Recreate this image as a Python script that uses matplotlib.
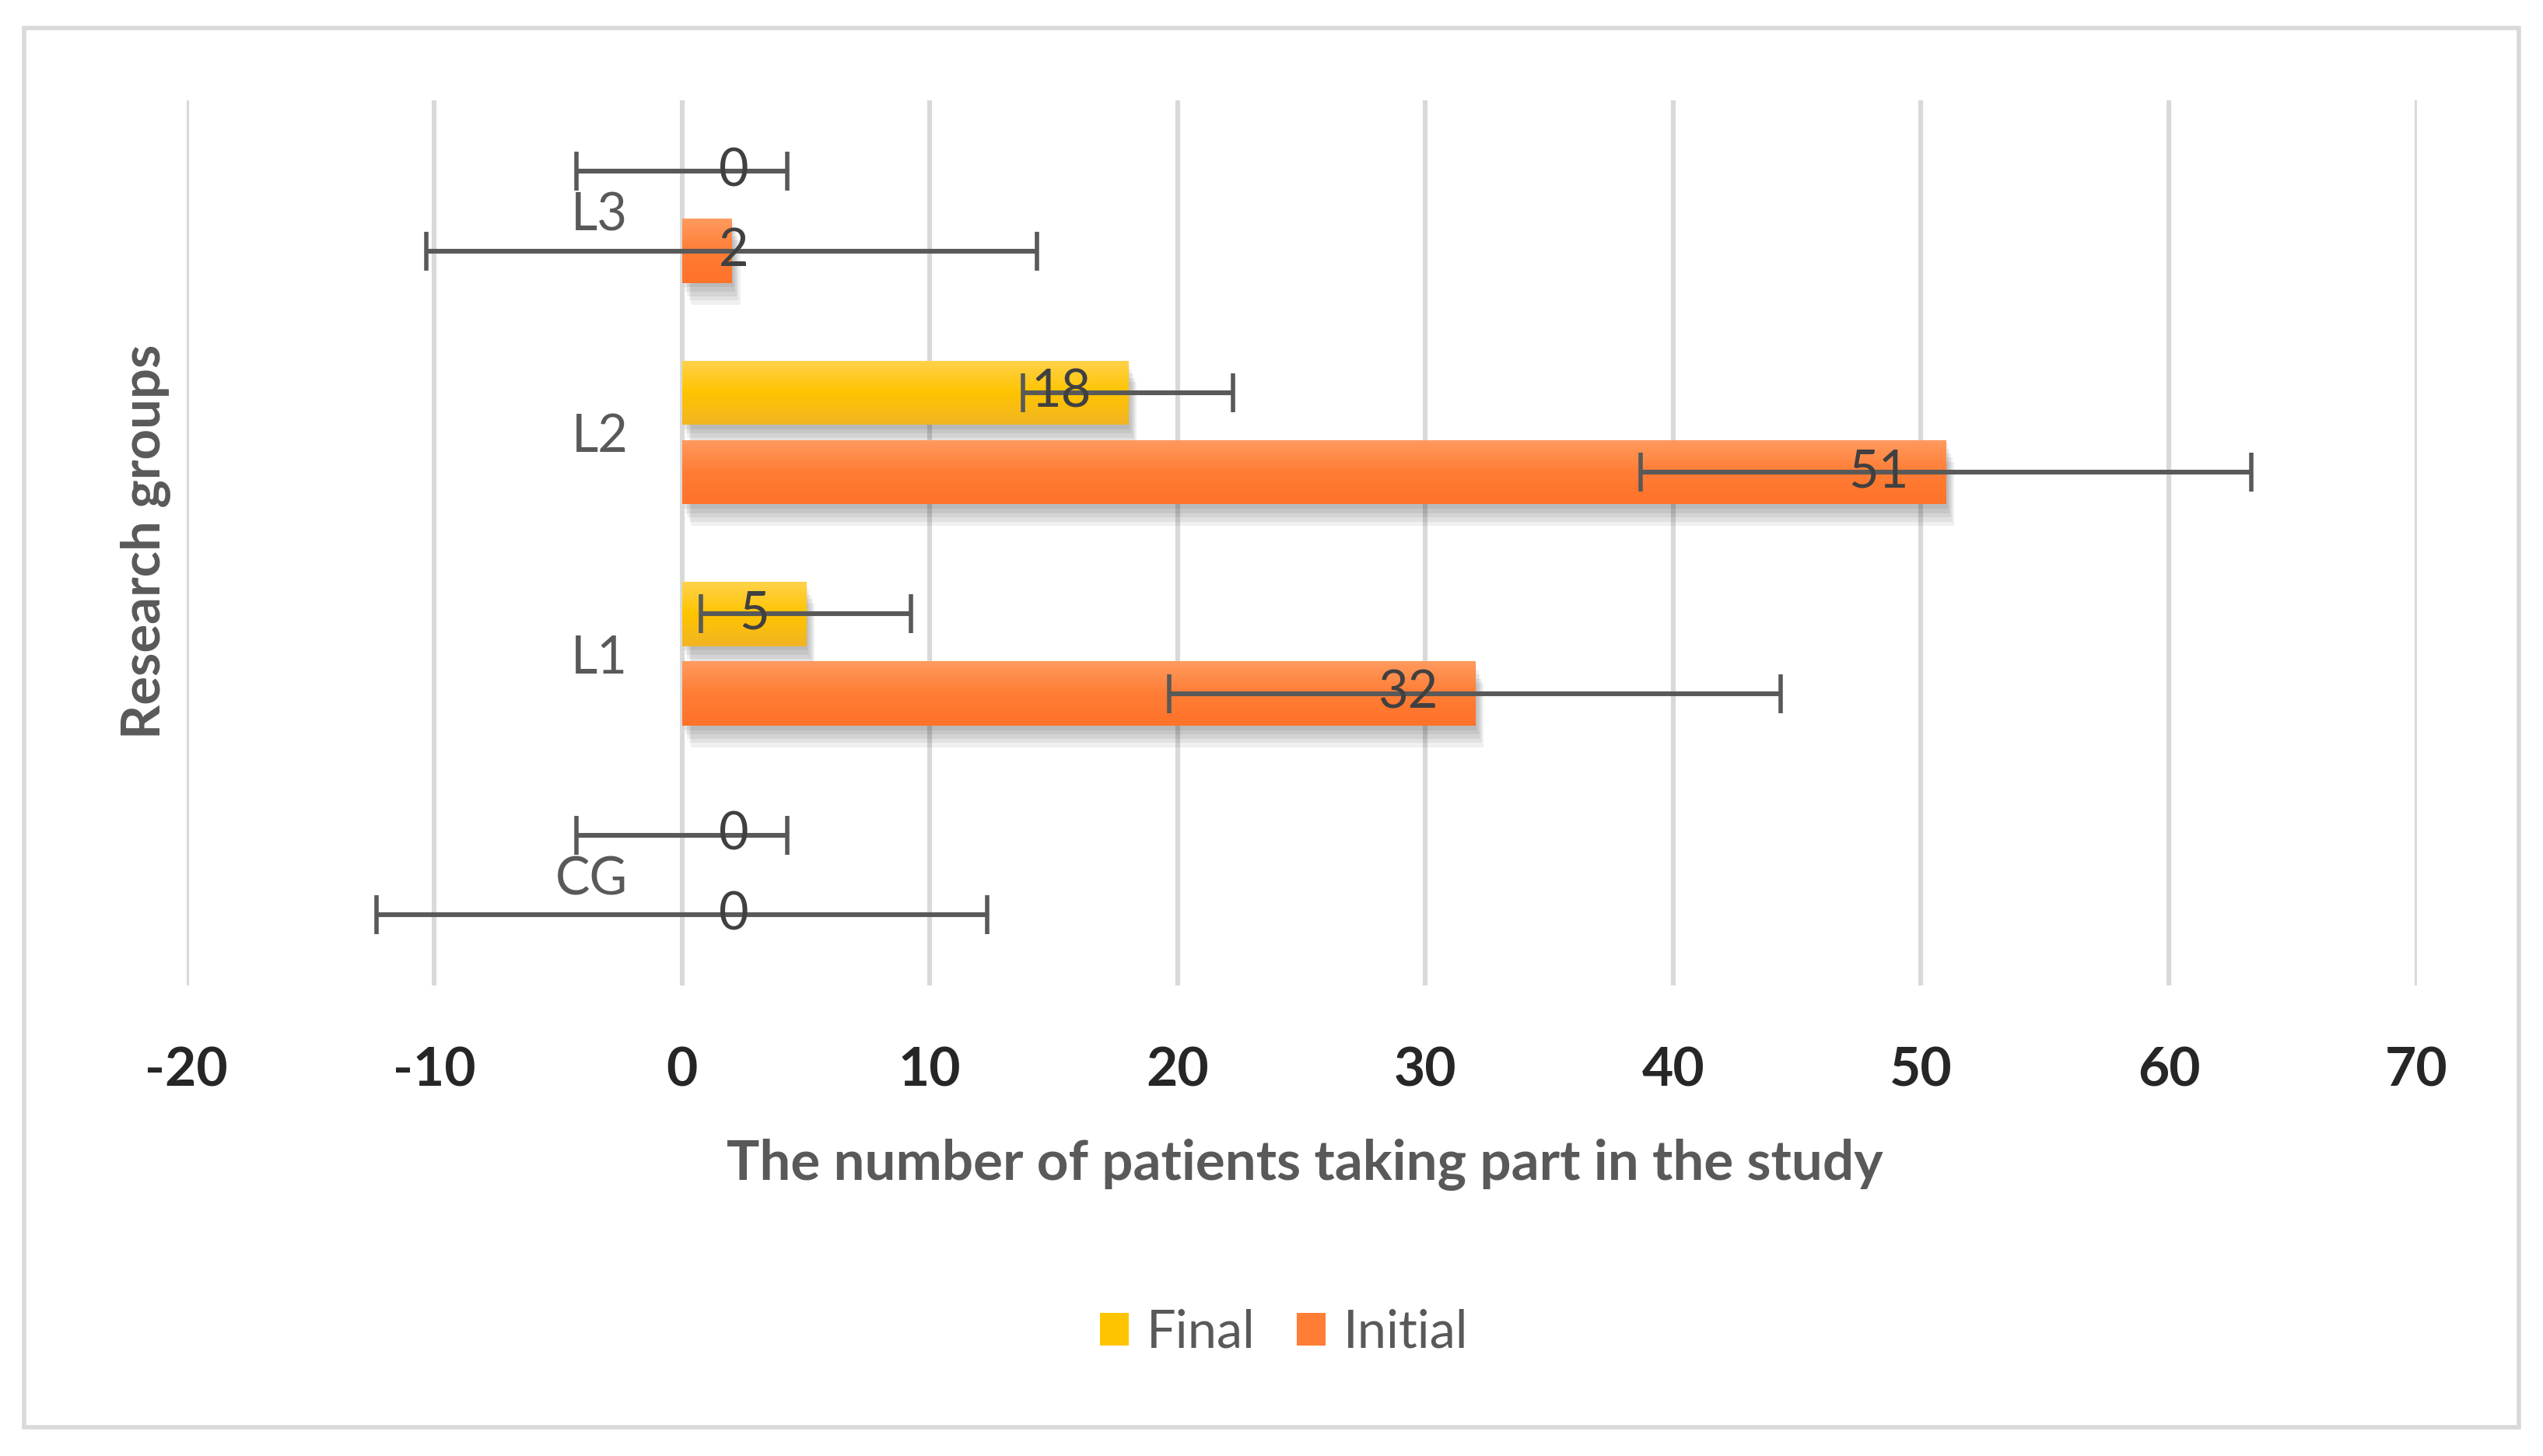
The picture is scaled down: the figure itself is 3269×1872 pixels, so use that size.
"""Horizontal bar chart: patients per research group, initial vs final."""

import matplotlib

matplotlib.use("Agg")
import matplotlib.pyplot as plt
import matplotlib.patheffects as pe
import numpy as np
from matplotlib.colors import LinearSegmentedColormap
from matplotlib.patches import Patch, Rectangle

# data
groups = ["CG", "L1", "L2", "L3"]
final_vals = [0, 5, 18, 0]
initial_vals = [0, 32, 51, 2]
final_err = [4.25, 4.25, 4.25, 4.25]
initial_err = [12.33, 12.33, 12.33, 12.33]
series_names = ["Final", "Initial"]
x_ticks = [-20, -10, 0, 10, 20, 30, 40, 50, 60, 70]

plt.rcParams["font.family"] = ["Lato", "DejaVu Sans"]

GRID = "#D9D9D9"
TEXT = "#595959"
LABEL = "#404040"
FINAL_GRAD = ["#FFD24A", "#FFC400", "#F2B524"]
INITIAL_GRAD = ["#FF9A5E", "#FF7D35", "#FF722A"]

fig = plt.figure(figsize=(16.345, 9.36), dpi=200)
ax = fig.add_axes([0.0733, 0.323, 0.877, 0.608])

y = np.arange(len(groups))
off = 0.18
h = 0.29

# soft drop shadow built from a few faint offset copies
shadow = [pe.SimplePatchShadow(offset=(d * 0.4, -d), shadow_rgbFace="#000000", alpha=0.06)
          for d in (2, 4, 6, 8, 10)] + [pe.Normal()]
bars_f = ax.barh(y + off, final_vals, height=h, color=FINAL_GRAD[1], zorder=3,
                 path_effects=shadow)
bars_i = ax.barh(y - off, initial_vals, height=h, color=INITIAL_GRAD[1], zorder=3,
                 path_effects=shadow)

# vertical gradient on each bar
grad = np.linspace(0, 1, 64).reshape(-1, 1)
for bars, cols in ((bars_f, FINAL_GRAD), (bars_i, INITIAL_GRAD)):
    cmap = LinearSegmentedColormap.from_list("g", cols[::-1])
    for b in bars:
        if b.get_width() <= 0:
            continue
        x0, y0 = b.get_x(), b.get_y()
        im = ax.imshow(grad, cmap=cmap, aspect="auto", origin="lower",
                       extent=(x0, x0 + b.get_width(), y0, y0 + b.get_height()), zorder=3.5)
        im.set_clip_path(b)

ax.errorbar(final_vals, y + off, xerr=final_err, fmt="none", ecolor=TEXT,
            elinewidth=2.2, capsize=9, capthick=2, zorder=5)
ax.errorbar(initial_vals, y - off, xerr=initial_err, fmt="none", ecolor=TEXT,
            elinewidth=2.2, capsize=9, capthick=2, zorder=5)

# data labels (inside end, or just right of zero for tiny bars)
for vals, dy in ((final_vals, off), (initial_vals, -off)):
    for yi, v in zip(y, vals):
        if v >= 4:
            ax.annotate(str(v), (v, yi + dy), xytext=(-17, 0), textcoords="offset points",
                        ha="right", va="center", fontsize=24, color=LABEL, zorder=6)
        else:
            ax.annotate(str(v), (0, yi + dy), xytext=(17, 0), textcoords="offset points",
                        ha="left", va="center", fontsize=24, color=LABEL, zorder=6)

ax.set_xlim(x_ticks[0], x_ticks[-1])
ax.set_ylim(-0.5, len(groups) - 0.5)
ax.set_xticks(x_ticks)
ax.set_xticklabels([str(t) for t in x_ticks])
ax.set_yticks(y)
ax.set_yticklabels(groups)
ax.grid(axis="x", color=GRID, linewidth=2.2, zorder=0)
ax.set_axisbelow(True)
for s in ax.spines.values():
    s.set_visible(False)
ax.spines["left"].set_position(("data", 0))
ax.tick_params(axis="x", length=0, pad=28, labelsize=25, labelcolor="#262626")
ax.tick_params(axis="y", length=0, pad=25, labelsize=24, labelcolor=TEXT)
for t in ax.get_xticklabels():
    t.set_fontweight("bold")

fig.text(0.513, 0.2, "The number of patients taking part in the study", ha="center",
         va="center", fontsize=25.5, fontweight="bold", color=TEXT)
fig.text(0.0575, 0.628, "Research groups", ha="center", va="center", rotation=90,
         fontsize=24.8, fontweight="bold", color=TEXT)

handles = [Patch(facecolor=FINAL_GRAD[1]), Patch(facecolor=INITIAL_GRAD[1])]
fig.legend(handles=handles, labels=series_names, loc="center",
           bbox_to_anchor=(0.505, 0.0846), ncol=2, frameon=False, fontsize=24,
           labelcolor=TEXT, handlelength=0.55, handleheight=0.6, handletextpad=0.35,
           columnspacing=0.8)

fig.patches.append(Rectangle((0.0096, 0.02), 0.9808, 0.961, transform=fig.transFigure,
                             fill=False, edgecolor=GRID, linewidth=2))

fig.savefig("out.png", dpi=200, facecolor="white")
plt.close(fig)
